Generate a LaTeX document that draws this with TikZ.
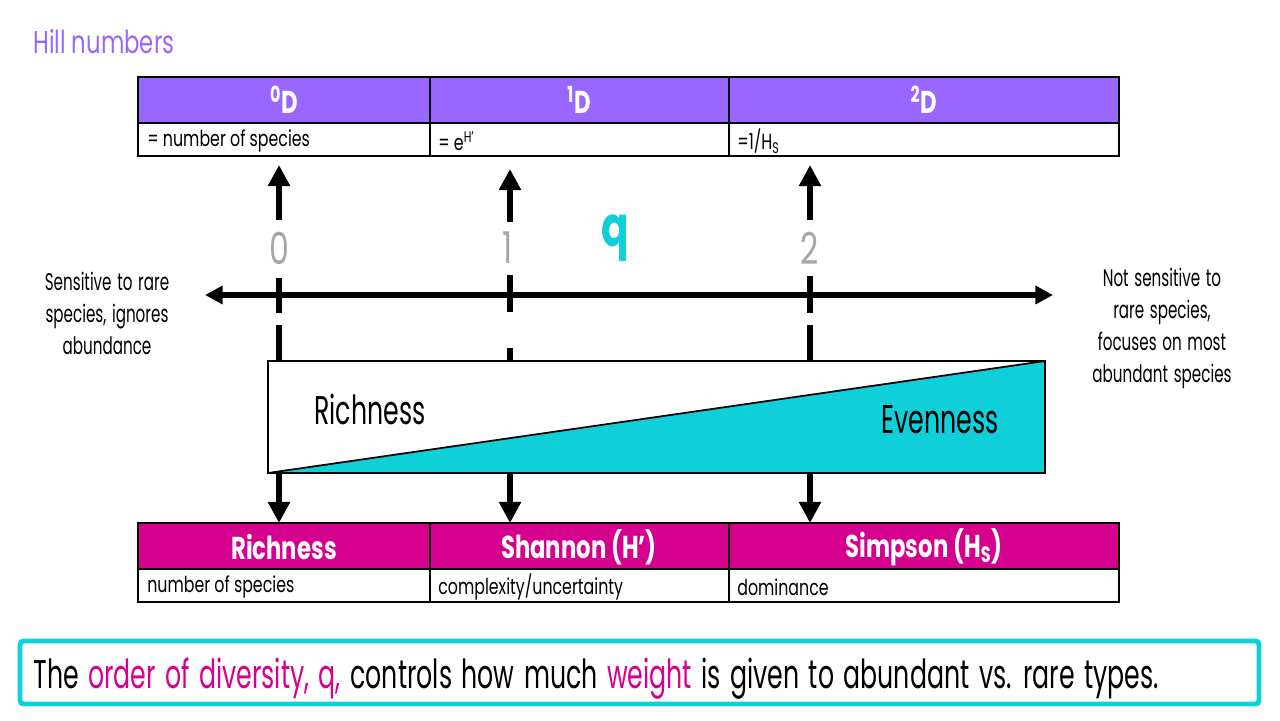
\documentclass[tikz,border=0pt]{standalone}
\usepackage{fontspec}
\setmainfont[FakeStretch=0.72]{Poppins}
\newfontfamily\etroit[FakeStretch=0.63,WordSpace=1.4]{Poppins}
\usepackage{tikz}
\usetikzlibrary{arrows.meta}
\definecolor{hill_purple}{HTML}{9966FF}
\definecolor{hill_magenta}{HTML}{D6008F}
\definecolor{hill_cyan}{HTML}{0FCFD8}
\definecolor{hill_grey}{HTML}{A6A6A6}

\begin{document}
\begin{tikzpicture}[x=0.02cm,y=-0.02cm,
    hdr/.style={text=white, font=\bfseries\fontsize{18}{20}\selectfont},
    cellt/.style={anchor=west, inner sep=0pt, font=\fontsize{12.5}{14}\selectfont},
    side/.style={align=center, inner sep=0pt, font=\etroit\fontsize{13.7}{18.2}\selectfont},
    num/.style={text=hill_grey, font=\fontsize{25}{26}\selectfont},
    bigarrow/.style={line width=3.6pt, -{Triangle[width=12pt,length=12pt]}},
    tick/.style={line width=3.4pt}]

        % Cadre de la figure
        \useasboundingbox (0,0) rectangle (1280,720);

        % Titre
        \node[anchor=west, inner sep=0pt, text=hill_purple, font=\fontsize{18}{20}\selectfont] (titre) at (33,42) {Hill numbers};

        % Tableau du haut : nombres de Hill
        \fill[hill_purple] (138,77) rectangle (1119,123);
        \draw[line width=0.8pt] (138,77) rectangle (1119,156) (138,123) -- (1119,123)
            (430,77) -- (430,156) (729,77) -- (729,156);
        \node[hdr] (d0) at (284,100) {\textsuperscript{0}D};
        \node[hdr] (d1) at (579,100) {\textsuperscript{1}D};
        \node[hdr] (d2) at (924,100) {\textsuperscript{2}D};
        \node[cellt] (f0) at (147,141) {= number of species};
        \node[cellt] (f1) at (438,141) {= e\textsuperscript{H’}};
        \node[cellt] (f2) at (737,141) {=1/H\textsubscript{S}};

        % Fleches vers le haut
        \coordinate (u0) at (279,220); \coordinate (h0) at (279,165);
        \coordinate (u1) at (510,222); \coordinate (h1) at (510,169);
        \coordinate (u2) at (810,220); \coordinate (h2) at (810,165);
        \draw[bigarrow] (u0) -- (h0);
        \draw[bigarrow] (u1) -- (h1);
        \draw[bigarrow] (u2) -- (h2);

        % Valeurs de q
        \node[num] (n0) at (279,248) {0};
        \node[num] (n1) at (508,248) {1};
        \node[num] (n2) at (810,248) {2};
        \node[text=hill_cyan, font=\bfseries\fontsize{32}{34}\selectfont] (q) at (615,238) {q};

        % Axe horizontal
        \coordinate (axeG) at (205,295);
        \coordinate (axeD) at (1053,295);
        \draw[line width=3.4pt, {Triangle[width=10pt,length=10pt]}-{Triangle[width=10pt,length=10pt]}] (axeG) -- (axeD);

        % Graduations en pointilles
        \draw[tick] (279,278) -- (279,313) (279,325) -- (279,361);
        \draw[tick] (510,275) -- (510,312) (510,348) -- (510,361);
        \draw[tick] (810,276) -- (810,313) (810,325) -- (810,361);

        % Textes lateraux
        \node[side] (gauche) at (107,313) {Sensitive to rare\\species, ignores\\abundance};
        \node[side] (droite) at (1162,328) {Not sensitive to\\rare species,\\focuses on most\\abundant species};

        % Rectangle richesse / equitabilite
        \coordinate (bA) at (268,473);
        \coordinate (bB) at (1045,473);
        \coordinate (bC) at (1045,361);
        \coordinate (bD) at (268,361);
        \fill[white] (bA) rectangle (bC);
        \filldraw[fill=hill_cyan, line width=1pt] (bA) -- (bC) -- (bB) -- cycle;
        \draw[line width=1.4pt] (bA) -- (bB) -- (bC) -- (bD) -- cycle;
        \node[font=\etroit\fontsize{22.8}{24}\selectfont] (rich) at (370,409) {Richness};
        \node[font=\etroit\fontsize{22.8}{24}\selectfont] (even) at (940,420) {Evenness};

        % Fleches vers le bas
        \coordinate (b0) at (279,473); \coordinate (c0) at (279,523);
        \coordinate (b1) at (510,473); \coordinate (c1) at (510,523);
        \coordinate (b2) at (810,473); \coordinate (c2) at (810,523);
        \draw[bigarrow] (b0) -- (c0);
        \draw[bigarrow] (b1) -- (c1);
        \draw[bigarrow] (b2) -- (c2);

        % Tableau du bas : indices classiques
        \fill[hill_magenta] (138,523) rectangle (1119,569);
        \draw[line width=0.8pt] (138,523) rectangle (1119,602) (138,569) -- (1119,569)
            (430,523) -- (430,602) (729,523) -- (729,602);
        \node[hdr] (i0) at (284,547) {Richness};
        \node[hdr] (i1) at (579,547) {Shannon (H’)};
        \node[hdr] (i2) at (924,547) {Simpson (H\textsubscript{S})};
        \node[cellt] (s0) at (147,587) {number of species};
        \node[cellt] (s1) at (438,587) {complexity/uncertainty};
        \node[cellt] (s2) at (737,587) {dominance};

        % Phrase de conclusion
        \draw[hill_cyan, line width=2.8pt, rounded corners=2pt] (20,641) rectangle (1259,704);
        \node[anchor=west, inner sep=0pt, font=\etroit\fontsize{22.8}{24}\selectfont] (phrase) at (33,679)
            {The \textcolor{hill_magenta}{order of diversity, q,} controls how much \textcolor{hill_magenta}{weight} is given to abundant vs. rare types.};
    \end{tikzpicture}
\end{document}
